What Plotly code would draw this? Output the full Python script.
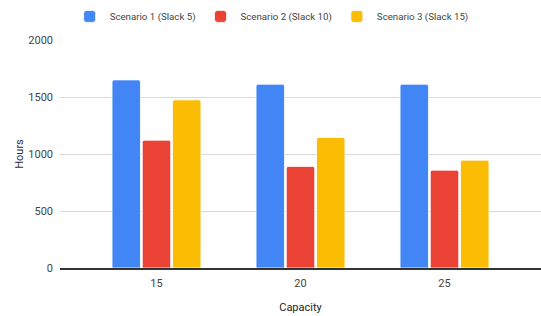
import plotly.graph_objects as go

categories = ["15", "20", "25"]
series_names = ["Scenario 1 (Slack 5)", "Scenario 2 (Slack 10)", "Scenario 3 (Slack 15)"]
scenario1 = [1650, 1612, 1612]
scenario2 = [1121, 891, 858]
scenario3 = [1475, 1145, 946]
colors = ["#4285F4", "#EA4335", "#FBBC04"]
y_ticks = [0, 500, 1000, 1500, 2000]

fig = go.Figure()
for name, vals, c in zip(series_names, [scenario1, scenario2, scenario3], colors):
    fig.add_trace(go.Bar(x=categories, y=vals, name=name,
                         marker=dict(color=c, line=dict(color="white", width=0.8),
                                     cornerradius=2)))

fig.update_layout(
    width=541, height=316,
    margin=dict(l=60, r=0, t=40, b=48, autoexpand=False),
    paper_bgcolor="white", plot_bgcolor="white",
    font=dict(family="Roboto, Arial, sans-serif", size=11, color="#444444"),
    barmode="group", bargap=0.37, bargroupgap=0.06,
    showlegend=True,
    legend=dict(orientation="h", x=0.44, xanchor="center", y=1.04, yanchor="bottom",
                font=dict(size=9.7, color="#444444"),
                itemwidth=30, traceorder="normal"),
    xaxis=dict(type="category", range=[-0.67, 2.67], showgrid=False, automargin=False,
               showline=True, linecolor="#333333", linewidth=1.5,
               ticks="", ticklabelstandoff=4,
               title=dict(text="Capacity", font=dict(size=11, color="#222222"), standoff=14)),
    yaxis=dict(range=[0, 2000], tickvals=y_ticks, showgrid=True, gridcolor="#D9D9D9",
               zeroline=False, showline=False, ticks="", ticklabelstandoff=6, automargin=False,
               title=dict(text="Hours", font=dict(size=11, color="#1f2d4d"), standoff=2)),
)
fig.write_html("out.html", config={"displayModeBar": False},
               post_script="document.body.style.margin='0';document.body.style.overflow='hidden';")
